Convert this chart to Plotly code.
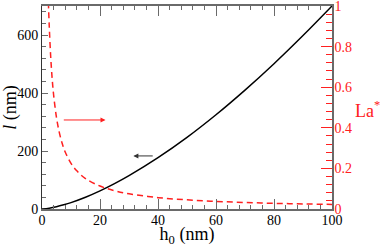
import plotly.graph_objects as go

# Black curve: l (nm) vs h0 (nm), left axis
h0_l = [0, 2.5, 5, 7.5, 10, 15, 20, 25, 30, 40, 50, 60, 70, 80, 90, 100]
l_nm = [0, 2.8, 7.8, 14.4, 22.1, 40.7, 62.6, 87.5, 115, 177, 247, 325, 410, 501, 598, 700]

# Red dashed curve: La* vs h0 (nm), right axis
h0_la = [2.2, 2.5, 3, 3.5, 4, 5, 6, 7, 8, 10, 12, 15, 20, 25, 30, 40, 50, 60, 70, 80, 90, 100]
la_star = [1.02, 0.9, 0.75, 0.643, 0.563, 0.45, 0.375, 0.321, 0.281, 0.225, 0.188, 0.15,
           0.113, 0.09, 0.075, 0.056, 0.045, 0.0375, 0.032, 0.028, 0.025, 0.0225]

x_ticks = [0, 20, 40, 60, 80, 100]
y_ticks = [0, 200, 400, 600]
y2_ticks = [0, 0.2, 0.4, 0.6, 0.8, 1]
y2_labels = ["0", "0.2", "0.4", "0.6", "0.8", "1"]

SERIF = "Liberation Serif"
RED = "#ff2020"
AX = "#6a6a6a"

fig = go.Figure()
fig.add_trace(go.Scatter(x=h0_l, y=l_nm, mode="lines", line=dict(color="black", width=1.5, shape="spline"),
                         yaxis="y", showlegend=False))
fig.add_trace(go.Scatter(x=h0_la, y=la_star, mode="lines",
                         line=dict(color=RED, width=1.5, dash="6px,4px", shape="spline"),
                         yaxis="y2", showlegend=False))

fig.update_layout(
    width=382, height=247,
    margin=dict(l=42, r=50, t=6, b=38),
    paper_bgcolor="white", plot_bgcolor="white",
    font=dict(family=SERIF, size=14, color="black"),
    xaxis=dict(range=[0, 100], tickvals=x_ticks, ticks="inside", ticklen=10, tickcolor=AX,
               showline=True, linecolor=AX, linewidth=1.5, mirror="ticks", showgrid=False, zeroline=False,
               minor=dict(dtick=4, ticks="inside", ticklen=4, tickcolor=AX),
               title=dict(text="h<sub>0</sub> (nm)", font=dict(size=18, family=SERIF), standoff=0),
               tickfont=dict(size=14, family=SERIF), ticklabelstandoff=-3, automargin=False,
               ticklabeloverflow="allow"),
    yaxis=dict(range=[0, 700], tickvals=y_ticks, ticks="inside", ticklen=6, tickcolor=AX,
               showline=True, linecolor="#333", linewidth=1, showgrid=False, zeroline=False,
               minor=dict(dtick=40, ticks="inside", ticklen=3.5, tickcolor=AX),
               title=dict(text="<i>l</i> (nm)", font=dict(size=18, family=SERIF), standoff=0),
               tickfont=dict(size=14, family=SERIF), ticklabelstandoff=0, automargin=False,
               ticklabeloverflow="allow"),
    yaxis2=dict(range=[0, 1], overlaying="y", side="right", tickvals=y2_ticks, ticktext=y2_labels,
                ticks="inside", ticklen=11, tickcolor=RED, showline=True, linecolor=AX, linewidth=1.5,
                showgrid=False, zeroline=False, automargin=False,
                minor=dict(dtick=0.04, ticks="inside", ticklen=6, tickcolor=RED),
                tickfont=dict(size=14, color=RED, family=SERIF), ticklabelstandoff=-2,
                ticklabeloverflow="allow"),
)

fig.add_annotation(x=1.0, y=0.49, xref="paper", yref="paper", xanchor="left", yanchor="middle",
                   xshift=21, text="La<sup>*</sup>", showarrow=False, font=dict(size=18, color=RED, family=SERIF))

# Arrows
fig.add_annotation(x=21.9, y=307, ax=7, ay=307, xref="x", yref="y", axref="x", ayref="y",
                   text="", showarrow=True, arrowhead=2, arrowsize=1, arrowwidth=1, arrowcolor=RED)
fig.add_annotation(x=31.5, y=183, ax=38.7, ay=183, xref="x", yref="y", axref="x", ayref="y",
                   text="", showarrow=True, arrowhead=2, arrowsize=1, arrowwidth=1, arrowcolor="#333")

fig.write_html("out.html", config={"displayModeBar": False},
               post_script="document.body.style.margin='0';document.body.style.padding='0';")
